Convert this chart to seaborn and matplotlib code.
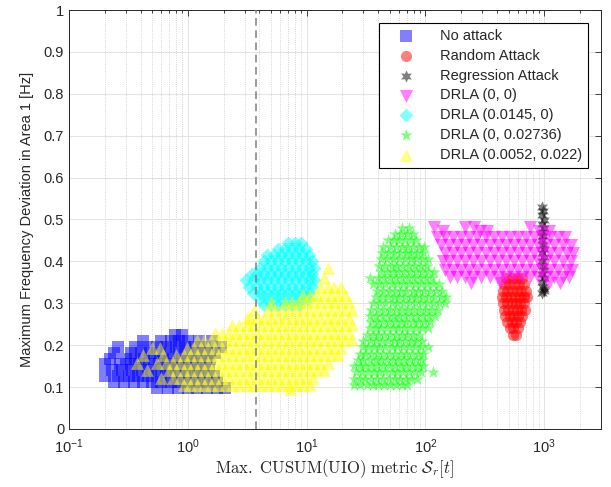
import numpy as np
import pandas as pd
import matplotlib
matplotlib.use('Agg')
import matplotlib.pyplot as plt
import seaborn as sns
from matplotlib.ticker import LogLocator, MultipleLocator, NullFormatter, FormatStrFormatter

# --- datos: (y, [x...]) por fila de la nube ---
no_rows = [
    (0.098, [0.55, 0.68, 0.82, 1.0, 1.2, 1.45, 1.75, 2.05]),
    (0.112, [0.24, 0.29, 0.35, 0.42, 0.5, 0.6, 0.72, 0.86, 1.03, 1.24, 1.48, 1.75]),
    (0.126, [0.2, 0.26, 0.32, 0.38, 0.46, 0.55, 0.66, 0.79, 0.95, 1.14, 1.37, 1.65]),
    (0.140, [0.23, 0.28, 0.34, 0.41, 0.49, 0.59, 0.71, 0.85, 1.02, 1.22, 1.5]),
    (0.154, [0.2, 0.27, 0.33, 0.39, 0.47, 0.57, 0.68, 0.82, 0.98, 1.18, 1.42]),
    (0.168, [0.22, 0.3, 0.36, 0.43, 0.52, 0.62, 0.74, 0.89, 1.07, 1.3, 1.55]),
    (0.182, [0.24, 0.33, 0.4, 0.48, 0.58, 0.7, 0.84, 1.0, 1.2, 1.45, 1.7]),
    (0.196, [0.26, 0.36, 0.45, 0.55, 0.66, 0.8, 0.95, 1.15, 1.4, 1.9]),
    (0.210, [0.42, 0.6, 0.72, 0.85, 1.0, 1.25, 1.6]),
    (0.224, [0.78, 0.9]),
]

rand_rows = [
    (0.225, [540, 580]),
    (0.240, [510, 550, 600]),
    (0.255, [490, 530, 575, 620]),
    (0.270, [470, 510, 550, 600, 650]),
    (0.285, [455, 495, 540, 585, 635, 690]),
    (0.300, [445, 485, 530, 575, 625, 680]),
    (0.315, [440, 480, 525, 570, 620, 675, 720]),
    (0.330, [450, 490, 535, 585, 640, 700]),
    (0.345, [460, 505, 555, 610, 670]),
    (0.360, [480, 530, 590, 650]),
]

reg_x = [960, 975, 955, 985, 965, 990, 960, 980, 950, 975, 995, 960, 985, 950, 975, 995, 960,
         985, 950, 975, 995, 965, 985]
reg_y = [0.53, 0.52, 0.51, 0.50, 0.49, 0.48, 0.47, 0.46, 0.45, 0.44, 0.43, 0.42, 0.41, 0.40,
         0.39, 0.38, 0.37, 0.36, 0.35, 0.34, 0.335, 0.325, 0.33]

d00_rows = [
    (0.482, [118, 215, 255, 760]),
    (0.472, [140, 285, 330, 900, 1100]),
    (0.458, [125, 146, 171, 200, 234, 274, 320, 375, 438, 513, 600, 702, 821, 961, 1124, 1315, 1500]),
    (0.440, [135, 158, 185, 216, 253, 296, 346, 405, 474, 555, 649, 760, 889, 1040, 1217, 1424, 1666]),
    (0.420, [146, 171, 200, 234, 274, 320, 375, 438, 513, 600, 702, 821, 961, 1124, 1315, 1540, 1750]),
    (0.400, [140, 158, 185, 216, 253, 296, 346, 405, 474, 555, 649, 760, 889, 1040, 1217, 1424, 1666]),
    (0.380, [146, 171, 200, 234, 274, 320, 375, 438, 513, 600, 702, 821, 961, 1124, 1315, 1540, 1720]),
    (0.362, [160, 185, 216, 253, 296, 346, 405, 474, 555, 649, 760, 889, 1040, 1217, 1424, 1600]),
    (0.348, [240, 420, 1100, 1350]),
]

d1_rows = [
    (0.295, [4.35, 5.0, 5.7, 6.55, 7.5, 8.6]),
    (0.310, [4.07, 4.67, 5.35, 6.13, 7.0, 8.0, 9.2, 10.2]),
    (0.325, [3.55, 4.07, 4.67, 5.35, 6.13, 7.0, 8.0, 9.2, 10.5]),
    (0.340, [3.3, 3.8, 4.35, 5.0, 5.7, 6.55, 7.5, 8.6, 9.8, 11.0]),
    (0.355, [3.1, 3.55, 4.07, 4.67, 5.35, 6.13, 7.0, 8.0, 9.2, 10.5, 11.5]),
    (0.370, [3.5, 3.8, 4.35, 5.0, 5.7, 6.55, 7.5, 8.6, 9.8, 11.0]),
    (0.385, [4.07, 4.67, 5.35, 6.13, 7.0, 8.0, 9.2, 10.5, 11.5]),
    (0.400, [4.35, 5.0, 5.7, 6.55, 7.5, 8.6, 9.8, 11.0]),
    (0.415, [4.67, 5.35, 6.13, 7.0, 8.0, 9.2, 10.5]),
    (0.430, [5.7, 6.55, 7.5, 8.6, 9.8]),
    (0.445, [6.9, 8.0, 9.0]),
]

d2_rows = [
    (0.105, [25, 28, 32, 36, 40, 45, 50, 56, 63, 70]),
    (0.120, [25, 28, 31, 35, 39, 44, 49, 55, 61, 68, 76, 85]),
    (0.135, [26, 29, 33, 37, 41, 46, 52, 58, 65, 73, 82, 92, 115]),
    (0.150, [25, 28, 31, 35, 39, 44, 49, 55, 62, 69, 77, 86, 95]),
    (0.165, [27, 30, 34, 38, 42, 47, 53, 59, 66, 74, 83, 93]),
    (0.180, [28, 31, 35, 39, 44, 49, 55, 62, 69, 77, 86, 96]),
    (0.195, [30, 33, 37, 41, 46, 52, 58, 65, 73, 82, 92, 104]),
    (0.210, [30, 34, 38, 43, 48, 54, 60, 67, 75, 84, 94]),
    (0.225, [32, 36, 40, 45, 50, 56, 63, 70, 79, 88]),
    (0.240, [34, 38, 42, 47, 53, 59, 66, 74, 83, 93, 104]),
    (0.255, [35, 39, 44, 49, 55, 62, 69, 78, 87, 98, 110]),
    (0.270, [34, 38, 43, 48, 54, 60, 67, 75, 85, 95, 107, 120]),
    (0.285, [35, 40, 45, 50, 56, 63, 71, 80, 90, 101, 113, 127]),
    (0.300, [36, 41, 46, 52, 58, 65, 73, 82, 92, 103, 116, 130, 145]),
    (0.315, [38, 43, 48, 54, 60, 67, 75, 84, 94, 106, 119, 134, 150]),
    (0.330, [39, 44, 49, 55, 62, 69, 78, 87, 98, 110, 123, 138]),
    (0.345, [36, 41, 46, 52, 58, 65, 73, 82, 92, 103, 116, 130]),
    (0.360, [34, 40, 45, 50, 56, 63, 71, 80, 90, 101, 113]),
    (0.375, [42, 47, 53, 59, 66, 74, 83, 93, 104, 117]),
    (0.390, [41, 46, 52, 58, 65, 73, 82, 92, 103]),
    (0.405, [42, 47, 53, 60, 67, 75, 84, 94, 105]),
    (0.420, [43, 48, 54, 61, 68, 76, 85, 95]),
    (0.435, [44, 50, 56, 63, 70, 79, 88, 98]),
    (0.450, [48, 54, 60, 67, 75, 84]),
    (0.465, [55, 62, 70, 78]),
    (0.480, [63, 72]),
]

d3_rows = [
    (0.095, [7.3]),
    (0.105, [0.92, 1.05, 1.2, 1.38, 1.58, 1.81, 2.07, 2.37, 2.72, 3.12, 3.57, 4.1, 4.7, 5.38, 6.17,
             7.07, 8.1, 9.28, 10.6]),
    (0.122, [0.6, 0.75, 0.86, 0.98, 1.12, 1.29, 1.48, 1.69, 1.94, 2.22, 2.54, 2.91, 3.34, 3.83,
             4.39, 5.03, 5.76, 6.6, 7.57, 8.67, 9.94, 11.4]),
    (0.140, [0.45, 0.7, 0.8, 0.92, 1.05, 1.2, 1.38, 1.58, 1.81, 2.07, 2.37, 2.72, 3.12, 3.57, 4.1,
             4.7, 5.38, 6.17, 7.07, 8.1, 9.28, 10.6, 12.2, 14.0]),
    (0.158, [0.37, 0.55, 0.65, 0.75, 0.86, 0.98, 1.12, 1.29, 1.48, 1.69, 1.94, 2.22, 2.54, 2.91,
             3.34, 3.83, 4.39, 5.03, 5.76, 6.6, 7.57, 8.67, 9.94, 11.4, 13.0, 15.0]),
    (0.176, [0.42, 0.62, 0.8, 0.92, 1.05, 1.2, 1.38, 1.58, 1.81, 2.07, 2.37, 2.72, 3.12, 3.57, 4.1,
             4.7, 5.38, 6.17, 7.07, 8.1, 9.28, 10.6, 12.2, 14.0, 16.0, 18.3]),
    (0.194, [0.5, 0.58, 0.98, 1.12, 1.29, 1.48, 1.69, 1.94, 2.22, 2.54, 2.91, 3.34, 3.83, 4.39,
             5.03, 5.76, 6.6, 7.57, 8.67, 9.94, 11.4, 13.0, 15.0, 17.1, 19.6]),
    (0.212, [1.2, 1.38, 1.58, 1.81, 2.07, 2.37, 2.72, 3.12, 3.57, 4.1, 4.7, 5.38, 6.17, 7.07, 8.1,
             9.28, 10.6, 12.2, 14.0, 16.0, 18.3, 21.0, 24.0]),
    (0.230, [1.69, 1.94, 2.22, 2.54, 2.91, 3.34, 3.83, 4.39, 5.03, 5.76, 6.6, 7.57, 8.67, 9.94,
             11.4, 13.0, 15.0, 17.1, 19.6, 22.5]),
    (0.248, [2.37, 2.72, 3.12, 3.57, 4.1, 4.7, 5.38, 6.17, 7.07, 8.1, 9.28, 10.6, 12.2, 14.0, 16.0,
             18.3, 21.0, 24.0]),
    (0.266, [3.15, 3.34, 3.83, 4.39, 5.03, 5.76, 6.6, 7.57, 8.67, 9.94, 11.4, 13.0, 15.0, 17.1,
             19.6, 22.5]),
    (0.284, [3.6, 4.7, 5.38, 6.17, 7.07, 8.1, 9.28, 10.6, 12.2, 14.0, 16.0, 18.3, 21.0, 24.0]),
    (0.302, [5.0, 6.6, 7.57, 8.67, 9.94, 11.4, 13.0, 15.0, 17.1, 19.6, 22.5]),
    (0.320, [9.28, 10.6, 12.2, 14.0, 16.0, 18.3, 21.0]),
    (0.338, [13.0, 15.0, 17.1, 19.6]),
    (0.360, [14.0]),
    (0.385, [15.2]),
]

labels = ['No attack', 'Random Attack', 'Regression Attack', 'DRLA (0, 0)',
          'DRLA (0.0145, 0)', 'DRLA (0, 0.02736)', 'DRLA (0.0052, 0.022)']
threshold = 3.76


def flatten(rows):
    xs, ys = [], []
    for y, row in rows:
        xs += row
        ys += [y] * len(row)
    return xs, ys


# --- estilo ---
sns.set_style('white')
plt.rcParams['font.family'] = ['Liberation Sans', 'DejaVu Sans']
plt.rcParams['mathtext.fontset'] = 'custom'
plt.rcParams['mathtext.rm'] = 'Liberation Sans'
plt.rcParams['mathtext.it'] = 'Liberation Sans:italic'
plt.rcParams['mathtext.bf'] = 'Liberation Sans:bold'

pts = [flatten(no_rows), flatten(rand_rows), (reg_x, reg_y), flatten(d00_rows),
       flatten(d1_rows), flatten(d2_rows), flatten(d3_rows)]
df = pd.concat([pd.DataFrame({'x': p[0], 'y': p[1], 'grupo': n}) for n, p in zip(labels, pts)],
               ignore_index=True)

markers = ['s', 'o', (6, 1, 0), 'v', 'D', '*', '^']
colors = [(0, 0, 1), (1, 0, 0), (0, 0, 0), (1, 0, 1), (0, 1, 1), (0, 1, 0), (1, 1, 0)]
sizes = [65, 65, 80, 90, 50, 90, 85]

fig = plt.figure(figsize=(6.11, 4.87), dpi=100)
ax = fig.add_axes([69/611, 1-429/487, (601-69)/611, (429-10)/487])

for n, m, c, s in zip(labels, markers, colors, sizes):
    sns.scatterplot(data=df[df.grupo == n], x='x', y='y', marker=m, color=c, s=s,
                    alpha=0.5, linewidth=0, label=n, ax=ax, zorder=3)

ax.axvline(threshold, color='#7f7f7f', ls='--', lw=1.1, dashes=(5, 3), zorder=5)

ax.set_xscale('log')
ax.set_xlim(0.1, 3000)
ax.set_ylim(0, 1)
ax.yaxis.set_major_locator(MultipleLocator(0.1))
ax.yaxis.set_major_formatter(FormatStrFormatter('%g'))
ax.xaxis.set_major_locator(LogLocator(base=10, numticks=10))
ax.xaxis.set_minor_locator(LogLocator(base=10, subs=np.arange(2, 10), numticks=20))
ax.xaxis.set_minor_formatter(NullFormatter())

ax.set_axisbelow(True)
ax.grid(True, which='major', color='#e3e3e3', lw=0.7, ls='-')
ax.grid(True, which='minor', axis='x', color='#c8c8c8', lw=0.6, ls=':')

for sp in ax.spines.values():
    sp.set_color('#262626')
    sp.set_linewidth(0.7)
ax.tick_params(which='both', direction='in', top=True, right=True, colors='#262626',
               labelsize=10.5, width=0.6)
ax.tick_params(which='major', length=4)
ax.tick_params(which='minor', length=2.5)
ax.tick_params(axis='x', which='major', pad=6)

ax.set_xlabel(r'$\mathrm{Max.\ CUSUM(UIO)\ metric}\ \mathcal{S}_r[t]$', fontsize=12,
              math_fontfamily='cm', color='#262626', labelpad=1)
ax.set_ylabel('Maximum Frequency Deviation in Area 1 [Hz]', fontsize=10.5,
              color='#262626', labelpad=7)

leg = ax.legend(loc='upper right', fontsize=10.5, frameon=True, fancybox=False,
                edgecolor='black', framealpha=1, borderaxespad=0.9, labelspacing=0.4,
                handletextpad=0.8, borderpad=0.4, handlelength=3.0)
leg.get_frame().set_linewidth(0.8)

fig.savefig('out.png', dpi=100)
